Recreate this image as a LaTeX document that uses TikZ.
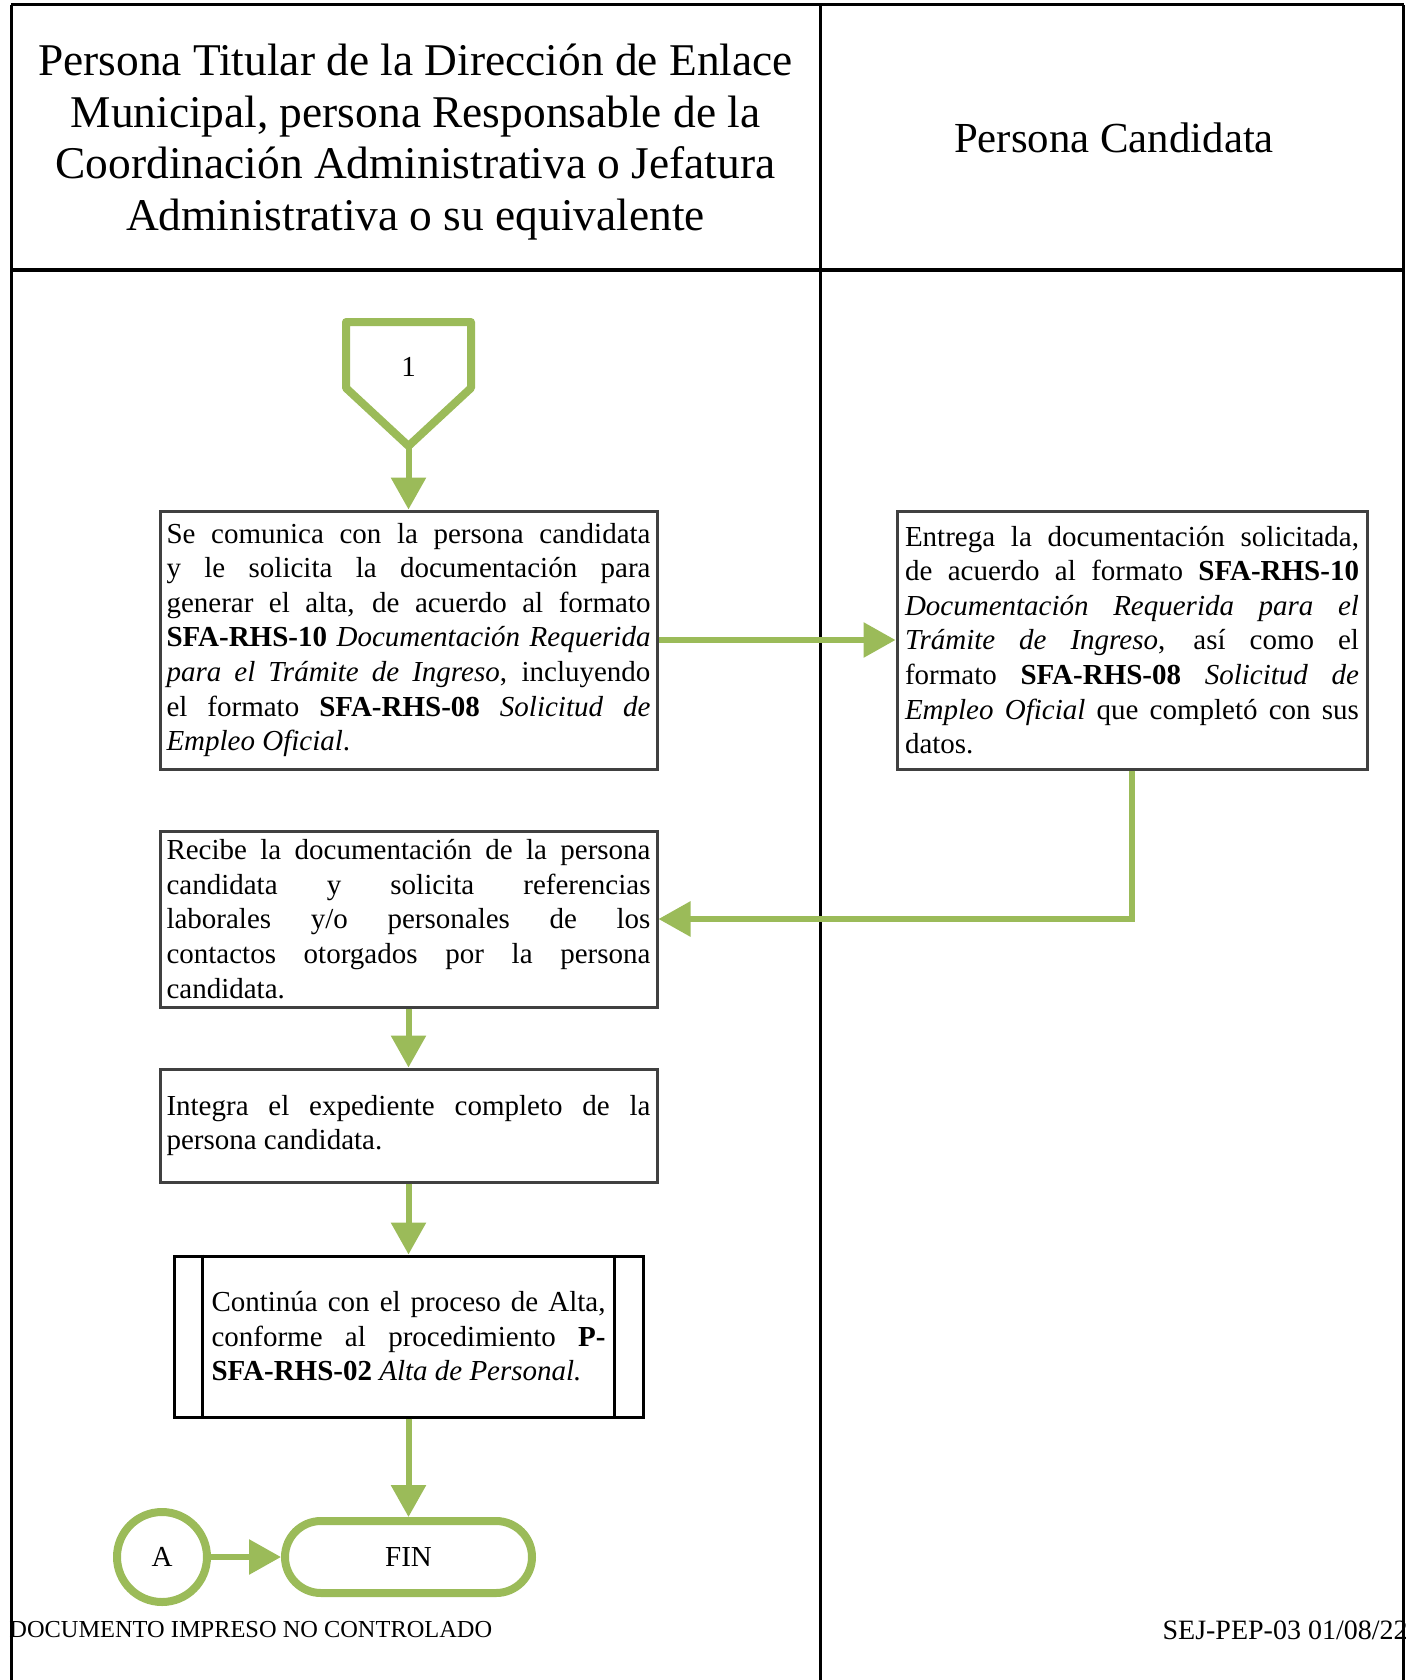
\documentclass[tikz,border=0pt]{standalone}
\usepackage{fontspec}
\setmainfont{Liberation Serif}
\usetikzlibrary{arrows.meta,positioning}
\definecolor{flowgreen}{HTML}{9BBB59}
\definecolor{boxgray}{HTML}{404040}

\begin{document}
\begin{tikzpicture}[x=0.5pt,y=-0.5pt,
    lane/.style={line width=1.5pt},
    head/.style={align=center,font=\fontsize{22.7}{25.75}\selectfont},
    proc/.style={rectangle,draw=boxgray,line width=1.5pt,align=justify,
      font=\fontsize{14.5}{17.3}\selectfont,inner xsep=3.25pt,inner ysep=0pt},
    symb/.style={draw=flowgreen,line width=4pt,line join=round,
      font=\fontsize{14.5}{17.3}\selectfont,inner sep=0pt},
    flow/.style={draw=flowgreen,line width=3pt,-{Triangle[length=16pt,width=17pt]}},
    foot/.style={inner sep=0pt,font=\fontsize{12.2}{15}\selectfont}]
    \useasboundingbox (0,0) rectangle (1408,1680);

    % carriles
    \draw[lane] (11,5) -- (1403.5,5);
    \draw[lane] (11,5) -- (11,1680);
    \draw[lane] (820,5) -- (820,1680);
    \draw[lane] (1403.5,5) -- (1403.5,1680);
    \draw[lane,line width=2.2pt] (11,270) -- (1403.5,270);
    \node[head] (titular) at (415.5,142) {Persona Titular de la Dirección de Enlace\\
      Municipal, persona Responsable de la\\
      Coordinación Administrativa o Jefatura\\
      Administrativa o su equivalente};
    \node[head,font=\fontsize{21.4}{25.75}\selectfont] (candidata) at (1114,137.5) {Persona Candidata};

    % conector de pagina
    \draw[symb] (346,322) -- (471,322) -- (471,388) -- (408.5,446) -- (346,388) -- cycle;
    \node[symb,draw=none] (off1) at (408.5,367) {1};
    \coordinate (off1tip) at (408.5,446);

    \node[proc,text width=242pt,minimum height=129pt] (comunica) at (408.5,640) {Se comunica con la persona candidata\linebreak
      y le solicita la documentación para\linebreak
      generar el alta, de acuerdo al formato\linebreak
      \textbf{SFA-RHS-10} \textit{Documentación Requerida}\linebreak
      \textit{para el Trámite de Ingreso}, incluyendo\linebreak
      el formato \textbf{SFA-RHS-08} \textit{Solicitud de}\linebreak
      \textit{Empleo Oficial}.};
    \node[proc,text width=227pt,minimum height=129pt,inner xsep=4pt] (entrega) at (1132,640) {Entrega la documentación solicitada,\linebreak
      de acuerdo al formato \textbf{SFA-RHS-10}\linebreak
      \textit{Documentación Requerida para el}\linebreak
      \textit{Trámite de Ingreso}, así como el\linebreak
      formato \textbf{SFA-RHS-08} \textit{Solicitud de}\linebreak
      \textit{Empleo Oficial} que completó con sus\linebreak
      datos.};
    \node[proc,text width=242pt,minimum height=88pt] (recibe) at (408.5,919) {Recibe la documentación de la persona\linebreak
      candidata y solicita referencias\linebreak
      laborales y/o personales de los\linebreak
      contactos otorgados por la persona\linebreak
      candidata.};
    \node[proc,text width=242pt,minimum height=56.5pt] (integra) at (408.5,1125.5) {Integra el expediente completo de la\linebreak
      persona candidata.};
    \node[proc,draw=black,text width=197pt,minimum width=234.5pt,minimum height=80.5pt] (alta) at (408.5,1336.5) {Continúa con el proceso de Alta,\linebreak
      conforme al procedimiento \textbf{P-}\linebreak
      \textbf{SFA-RHS-02} \textit{Alta de Personal.}};
    \draw[line width=1.5pt] ([xshift=15pt]alta.north west) -- ([xshift=15pt]alta.south west);
    \draw[line width=1.5pt] ([xshift=-15pt]alta.north east) -- ([xshift=-15pt]alta.south east);

    \node[symb,rounded corners=18pt,minimum width=123.5pt,minimum height=36pt] (fin) at (408.5,1557) {FIN};
    \node[symb,circle,minimum size=45pt] (conA) at (162,1557) {A};

    \node[foot,anchor=west] (leyenda) at (9,1630) {DOCUMENTO IMPRESO NO CONTROLADO};
    \node[foot,anchor=east,font=\fontsize{14}{15}\selectfont] (clave) at (1408,1630) {SEJ-PEP-03 01/08/22};

    \draw[flow] (off1tip) -- (comunica);
    \draw[flow] (comunica.east) -- (comunica.east -| entrega.west);
    \draw[flow] (entrega.south) |- (recibe.east);
    \draw[flow] (recibe) -- (integra);
    \draw[flow] (integra) -- (alta);
    \draw[flow] (alta) -- (fin);
    \draw[flow] (conA) -- (fin);
\end{tikzpicture}
\end{document}
